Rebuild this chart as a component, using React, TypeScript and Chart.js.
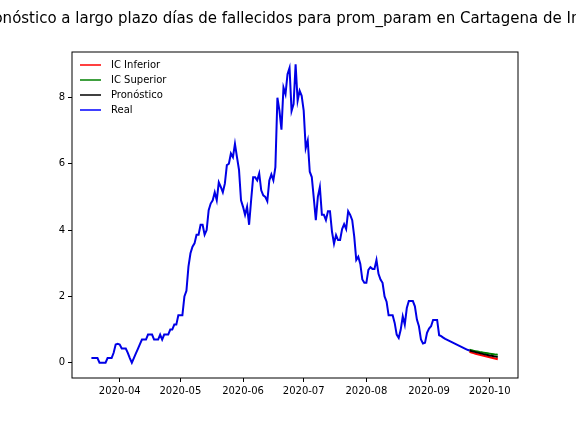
import { useEffect, useRef } from 'react'
import { Chart, registerables } from 'chart.js'

Chart.register(...registerables)

const TITLE = 'Pronóstico a largo plazo días de fallecidos para prom_param en Cartagena de Indias'

// days counted from 2020-03-01 (day 0)
const REAL_START = 17
const realValues = [
  0.14, 0.14, 0.14, 0.14, 0, 0, 0, 0, 0.14, 0.14, 0.14, 0.3, 0.55, 0.57, 0.55, 0.43, 0.43, 0.43, 0.3, 0.14,
  0, 0.14, 0.28, 0.42, 0.56, 0.7, 0.7, 0.7, 0.85, 0.85, 0.85, 0.7, 0.7, 0.7, 0.85, 0.7, 0.85, 0.85, 0.85, 1.0,
  1.0, 1.15, 1.15, 1.43, 1.43, 1.43, 2.0, 2.17, 2.9, 3.3, 3.5, 3.6, 3.86, 3.86, 4.16, 4.16, 3.86, 4.0, 4.6, 4.8,
  4.9, 5.14, 4.9, 5.44, 5.3, 5.14, 5.4, 5.96, 6.0, 6.31, 6.2, 6.6, 6.2, 5.82, 4.9, 4.7, 4.46, 4.7, 4.16, 4.9,
  5.59, 5.59, 5.5, 5.71, 5.2, 5.05, 5.0, 4.87, 5.5, 5.68, 5.5, 5.9, 7.99, 7.6, 7.03, 8.3, 8.1, 8.7, 8.89, 7.59,
  7.8, 9.0, 7.9, 8.2, 8.05, 7.6, 6.47, 6.7, 5.76, 5.6, 4.96, 4.3, 5.0, 5.3, 4.46, 4.46, 4.3, 4.57, 4.57, 3.95,
  3.59, 3.85, 3.7, 3.7, 4.03, 4.18, 4.03, 4.57, 4.46, 4.3, 3.8, 3.1, 3.2, 2.98, 2.51, 2.41, 2.41, 2.8, 2.88, 2.83,
  2.83, 3.1, 2.68, 2.51, 2.41, 2.0, 1.84, 1.43, 1.43, 1.43, 1.2, 0.85, 0.75, 1.0, 1.4, 1.15, 1.65, 1.86, 1.86, 1.86,
  1.7, 1.3, 1.1, 0.7, 0.58, 0.6, 0.9, 1.03, 1.1, 1.29, 1.29, 1.29, 0.83, 0.8, 0.76, 0.72, 0.69, 0.66, 0.63, 0.6,
  0.57, 0.54, 0.51, 0.48, 0.45, 0.42, 0.39, 0.37,
]
const FORECAST_START = 204
const forecastValues = [0.37, 0.35, 0.335, 0.32, 0.305, 0.29, 0.275, 0.26, 0.245, 0.235, 0.22, 0.21, 0.195, 0.185, 0.17]
const upperValues = [0.39, 0.375, 0.36, 0.35, 0.34, 0.325, 0.315, 0.305, 0.295, 0.285, 0.275, 0.265, 0.255, 0.245, 0.24]
const lowerValues = [0.33, 0.31, 0.29, 0.27, 0.255, 0.24, 0.225, 0.21, 0.195, 0.18, 0.165, 0.15, 0.135, 0.12, 0.105]

const monthDays = [31, 61, 92, 122, 153, 184, 214]
const monthLabels = ['2020-04', '2020-05', '2020-06', '2020-07', '2020-08', '2020-09', '2020-10']
const yTicks = [0, 2, 4, 6, 8]

const legendItems = [
  { label: 'IC Inferior', color: '#ff0000' },
  { label: 'IC Superior', color: '#008000' },
  { label: 'Pronóstico', color: '#000000' },
  { label: 'Real', color: '#0000ff' },
]

const FONT = '"DejaVu Sans", sans-serif'

const toPoints = (start: number, values: number[]) => values.map((y, i) => ({ x: start + i, y }))

const framePlugin = {
  id: 'frame',
  afterDraw(chart: any) {
    const { ctx, chartArea: a } = chart
    ctx.save()
    ctx.strokeStyle = '#000'
    ctx.lineWidth = 1
    ctx.strokeRect(a.left, a.top, a.right - a.left, a.bottom - a.top)
    ctx.fillStyle = '#000'
    ctx.font = '15px ' + FONT
    ctx.textAlign = 'center'
    ctx.textBaseline = 'middle'
    ctx.fillText(TITLE, (a.left + a.right) / 2, 19)
    ctx.font = '10px ' + FONT
    ctx.textAlign = 'left'
    legendItems.forEach((it, i) => {
      const y = a.top + 13 + i * 15
      ctx.strokeStyle = it.color
      ctx.lineWidth = 1.5
      ctx.beginPath()
      ctx.moveTo(a.left + 8, y)
      ctx.lineTo(a.left + 29, y)
      ctx.stroke()
      ctx.fillText(it.label, a.left + 39, y)
    })
    ctx.restore()
  },
}

export default function App() {
  const ref = useRef<HTMLCanvasElement>(null)

  useEffect(() => {
    if (!ref.current) return
    const line = (label: string, data: any[], color: string, order: number) => ({
      label,
      data,
      borderColor: color,
      backgroundColor: color,
      borderWidth: 2,
      pointRadius: 0,
      fill: false,
      order,
    })
    const chart = new Chart(ref.current, {
      type: 'line',
      data: {
        datasets: [
          line('IC Inferior', toPoints(FORECAST_START, lowerValues), '#ff0000', 4),
          line('IC Superior', toPoints(FORECAST_START, upperValues), '#008000', 3),
          line('Pronóstico', toPoints(FORECAST_START, forecastValues), '#000000', 2),
          line('Real', toPoints(REAL_START, realValues), '#0000e6', 1),
        ],
      },
      options: {
        animation: false,
        responsive: false,
        layout: { padding: { top: 52, right: 58, left: 0, bottom: 0 } },
        plugins: { legend: { display: false }, title: { display: false }, tooltip: { enabled: false } },
        scales: {
          x: {
            type: 'linear',
            min: 7.4,
            max: 228,
            afterFit: (s: any) => { s.height = 54 },
            afterBuildTicks: (s: any) => { s.ticks = monthDays.map((v) => ({ value: v })) },
            grid: { drawOnChartArea: false, drawTicks: true, tickLength: 4, color: '#000' },
            border: { display: false },
            ticks: {
              color: '#000',
              font: { family: FONT, size: 10 },
              maxRotation: 0,
              autoSkip: false,
              callback: (v: any) => monthLabels[monthDays.indexOf(v)] ?? '',
            },
          },
          y: {
            min: -0.46,
            max: 9.37,
            afterFit: (s: any) => { s.width = 72 },
            afterBuildTicks: (s: any) => { s.ticks = yTicks.map((v) => ({ value: v })) },
            grid: { drawOnChartArea: false, drawTicks: true, tickLength: 4, color: '#000' },
            border: { display: false },
            ticks: { color: '#000', font: { family: FONT, size: 10 } },
          },
        },
      },
      plugins: [framePlugin],
    })
    return () => chart.destroy()
  }, [])

  return (
    <div style={{ position: 'absolute', left: 0, top: 0 }}>
      <canvas ref={ref} width={576} height={432} style={{ width: 576, height: 432 }} />
    </div>
  )
}
